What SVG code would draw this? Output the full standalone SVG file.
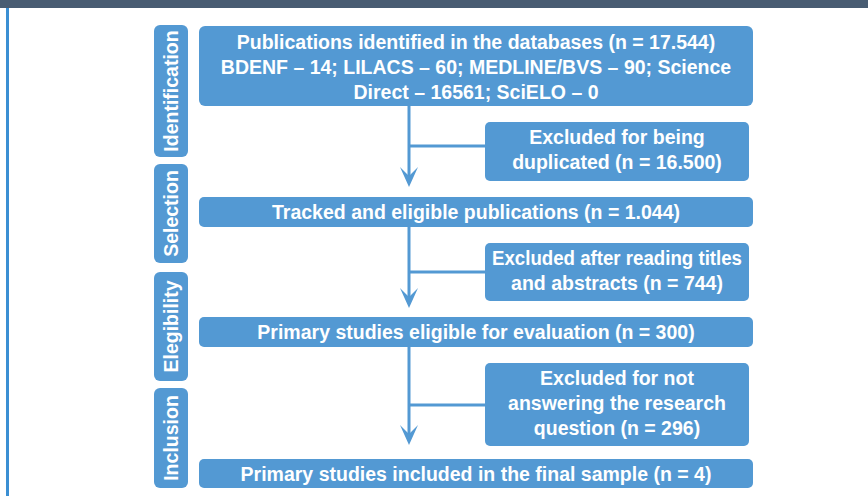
<svg xmlns="http://www.w3.org/2000/svg" width="868" height="496" viewBox="0 0 868 496">
<style>
.box{fill:#5399d3;}
.t{font-family:"Liberation Sans",Arial,sans-serif;font-weight:bold;font-size:19.5px;fill:#fff;text-anchor:middle;}
.p{font-family:"Liberation Sans",Arial,sans-serif;font-weight:bold;font-size:19.5px;fill:#fff;text-anchor:middle;}
.ln{stroke:#5399d3;stroke-width:3;fill:none;}
.ah{fill:#5399d3;}
</style>
<rect x="0" y="0" width="868" height="496" fill="#fff"/>
<rect x="0" y="0" width="868" height="8" fill="#485c72"/>
<rect x="6" y="8" width="3" height="488" fill="#3b8fd3"/>

<g id="phase-identification"><rect class="box" x="154" y="25" width="34" height="132" rx="6"/><text class="p" transform="translate(178,91) rotate(-90)">Identification</text></g>
<g id="phase-selection"><rect class="box" x="154" y="164" width="34" height="99" rx="6"/><text class="p" transform="translate(178,213.5) rotate(-90)">Selection</text></g>
<g id="phase-elegibility"><rect class="box" x="154" y="272" width="34" height="109" rx="6"/><text class="p" transform="translate(178,326.5) rotate(-90)">Elegibility</text></g>
<g id="phase-inclusion"><rect class="box" x="154" y="388" width="34" height="100" rx="6"/><text class="p" transform="translate(178,438) rotate(-90)">Inclusion</text></g>

<g id="connectors">
<line class="ln" x1="409" y1="106" x2="409" y2="176"/>
<line class="ln" x1="409" y1="146" x2="486" y2="146"/>
<polygon class="ah" points="409,187 400,167 409,176 418,167"/>
<line class="ln" x1="409" y1="227" x2="409" y2="297"/>
<line class="ln" x1="409" y1="272" x2="486" y2="272"/>
<polygon class="ah" points="409,308 400,288 409,297 418,288"/>
<line class="ln" x1="409" y1="347" x2="409" y2="434"/>
<line class="ln" x1="409" y1="405" x2="486" y2="405"/>
<polygon class="ah" points="409,445 400,425 409,434 418,425"/>
</g>

<g id="n1"><rect class="box" x="199" y="26" width="554" height="80" rx="6"/>
<text class="t" x="476" y="49">Publications identified in the databases (n = 17.544)</text>
<text class="t" x="476" y="74">BDENF – 14; LILACS – 60; MEDLINE/BVS – 90; Science</text>
<text class="t" x="476" y="99">Direct – 16561; SciELO – 0</text></g>
<g id="x1"><rect class="box" x="485" y="122" width="264" height="59" rx="5"/>
<text class="t" x="617" y="144">Excluded for being</text>
<text class="t" x="617" y="169">duplicated (n = 16.500)</text></g>
<g id="n2"><rect class="box" x="199" y="197" width="554" height="30" rx="5"/>
<text class="t" x="476" y="219">Tracked and eligible publications (n = 1.044)</text></g>
<g id="x2"><rect class="box" x="485" y="243" width="264" height="58" rx="5"/>
<text class="t" x="617" y="265" textLength="250" lengthAdjust="spacingAndGlyphs">Excluded after reading titles</text>
<text class="t" x="617" y="290">and abstracts (n = 744)</text></g>
<g id="n3"><rect class="box" x="199" y="317" width="554" height="30" rx="5"/>
<text class="t" x="476" y="339">Primary studies eligible for evaluation (n = 300)</text></g>
<g id="x3"><rect class="box" x="485" y="363" width="264" height="83" rx="5"/>
<text class="t" x="617" y="385">Excluded for not</text>
<text class="t" x="617" y="410">answering the research</text>
<text class="t" x="617" y="435">question (n = 296)</text></g>
<g id="n4"><rect class="box" x="199" y="459" width="554" height="29" rx="5"/>
<text class="t" x="476" y="481">Primary studies included in the final sample (n = 4)</text></g>
</svg>
